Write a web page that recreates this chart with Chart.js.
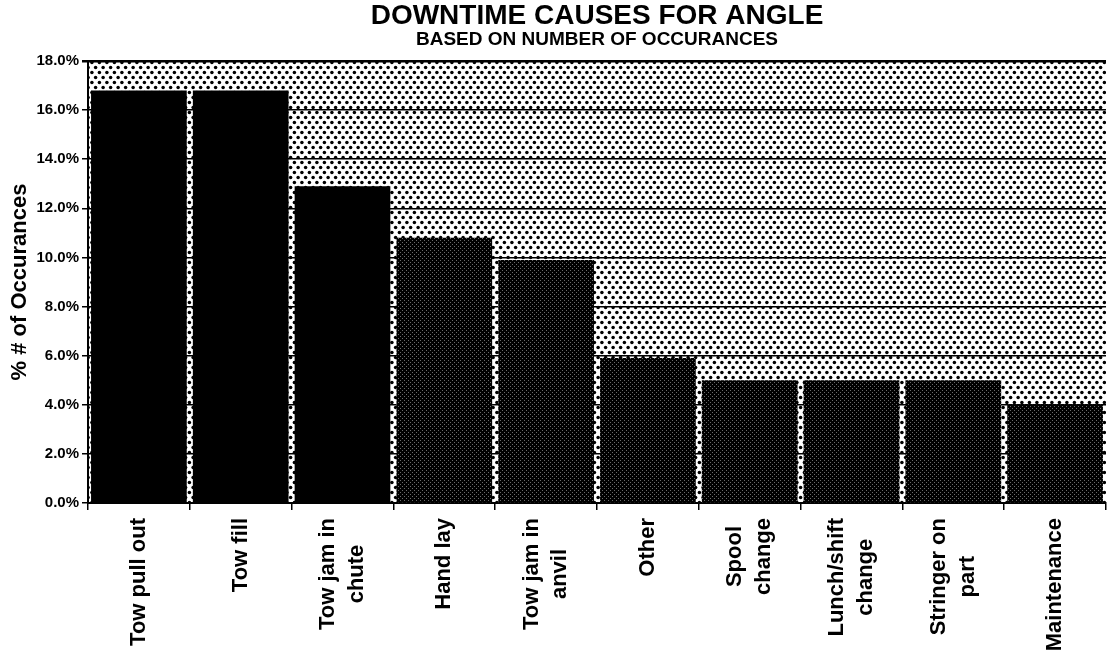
<!DOCTYPE html>
<html>
<head>
<meta charset="utf-8">
<title>Downtime Causes for Angle</title>
<script src="https://cdn.jsdelivr.net/npm/chart.js@4.4.0/dist/chart.umd.min.js"></script>
<style>
  html, body { margin: 0; padding: 0; background: #fff; }
  #wrap { width: 1109px; height: 663px; }
</style>
</head>
<body>
<div id="wrap"><canvas id="chart" width="1109" height="663"></canvas></div>
<script>
// Downtime causes, share of all recorded occurrences (%)
const categories = [
  ["Tow pull out"],
  ["Tow fill"],
  ["Tow jam in", "chute"],
  ["Hand lay"],
  ["Tow jam in", "anvil"],
  ["Other"],
  ["Spool", "change"],
  ["Lunch/shift", "change"],
  ["Stringer on", "part"],
  ["Maintenance"]
];
const occurrencePct = [16.8, 16.8, 12.9, 10.8, 9.9, 5.9, 5.0, 5.0, 5.0, 4.0];
const yTickValues = [0, 2, 4, 6, 8, 10, 12, 14, 16, 18];
const yTickLabels = ["0.0%", "2.0%", "4.0%", "6.0%", "8.0%", "10.0%", "12.0%", "14.0%", "16.0%", "18.0%"];

const FONT = '"Liberation Sans", Arial, Helvetica, sans-serif';

// Halftone dot screen used behind the bars
function dotPattern(ctx) {
  const c = document.createElement('canvas');
  c.width = 15; c.height = 10;
  const g = c.getContext('2d');
  g.fillStyle = '#fff';
  g.fillRect(0, 0, 15, 10);
  g.fillStyle = '#000';
  [[1.9, 2.5], [9.4, 2.5], [5.6, 7.5], [13.1, 7.5]].forEach(([x, y]) => {
    g.beginPath();
    g.arc(x, y, 1.75, 0, Math.PI * 2);
    g.fill();
  });
  return ctx.createPattern(c, 'repeat');
}

// Dark screened fill for the lighter bars
function darkScreen(ctx) {
  const c = document.createElement('canvas');
  c.width = 4; c.height = 4;
  const g = c.getContext('2d');
  g.fillStyle = '#000';
  g.fillRect(0, 0, 4, 4);
  g.fillStyle = '#6a6a6a';
  g.fillRect(0, 0, 1, 1);
  g.fillRect(2, 2, 1, 1);
  return ctx.createPattern(c, 'repeat');
}

const canvas = document.getElementById('chart');
const ctx2d = canvas.getContext('2d');
const plotFill = dotPattern(ctx2d);
const screenFill = darkScreen(ctx2d);
const barFills = occurrencePct.map((v, i) => (i < 3 ? '#000' : screenFill));

const plotBackground = {
  id: 'plotBackground',
  beforeDraw(chart) {
    const { ctx, chartArea: a } = chart;
    ctx.save();
    ctx.fillStyle = plotFill;
    ctx.fillRect(a.left, a.top, a.right - a.left, a.bottom - a.top);
    ctx.restore();
  }
};

// Center the lines of each rotated category label on one another and on the tick
const centeredCategoryLines = {
  id: 'centeredCategoryLines',
  beforeDraw(chart) {
    const scale = chart.scales.x;
    const items = scale.getLabelItems(chart.chartArea);
    const ctx = chart.ctx;
    items.forEach(item => {
      if (item._centered) return;
      const lines = Array.isArray(item.label) ? item.label : [item.label];
      ctx.save();
      ctx.font = item.font.string;
      const w = Math.max(...lines.map(l => ctx.measureText(l).width));
      ctx.restore();
      item.options.textAlign = 'center';
      item.options.translation = [item.options.translation[0], item.options.translation[1] + w / 2];
      item.textOffset -= (lines.length - 1) * item.font.lineHeight / 2;
      item._centered = true;
    });
  }
};

new Chart(canvas, {
  type: 'bar',
  data: {
    labels: categories,
    datasets: [{
      data: occurrencePct,
      backgroundColor: barFills,
      borderWidth: 0,
      barPercentage: 0.94,
      categoryPercentage: 1.0
    }]
  },
  options: {
    responsive: false,
    animation: false,
    events: [],
    devicePixelRatio: 1,
    layout: { padding: { top: 2, right: 3, left: 0, bottom: 0 } },
    plugins: {
      legend: { display: false },
      tooltip: { enabled: false },
      title: {
        display: true,
        text: 'DOWNTIME CAUSES FOR ANGLE',
        fullSize: false,
        color: '#000',
        font: { family: FONT, size: 28, weight: 'bold', lineHeight: 1.0 },
        padding: { top: 0, bottom: 0 }
      },
      subtitle: {
        display: true,
        text: 'BASED ON NUMBER OF OCCURANCES',
        fullSize: false,
        color: '#000',
        font: { family: FONT, size: 19, weight: 'bold', lineHeight: 1.0 },
        padding: { top: 0, bottom: 12 }
      }
    },
    scales: {
      x: {
        offset: true,
        afterFit(scale) {
          scale.height = 160;
          scale.paddingLeft = 0;
          scale.paddingRight = 0;
        },
        grid: {
          display: true,
          offset: true,
          drawOnChartArea: false,
          drawTicks: true,
          tickLength: 7,
          color: '#000',
          lineWidth: 1.5
        },
        border: { display: true, color: '#000', width: 2 },
        ticks: {
          autoSkip: false,
          maxRotation: 90,
          minRotation: 90,
          padding: 8,
          color: '#000',
          font: { family: FONT, size: 22, weight: 'bold', lineHeight: 1.3 }
        }
      },
      y: {
        min: 0,
        max: 18,
        afterFit(scale) {
          scale.width = 88;
          scale.paddingTop = 0;
          scale.paddingBottom = 0;
        },
        afterBuildTicks(scale) {
          scale.ticks = yTickValues.map(v => ({ value: v }));
        },
        grid: {
          display: true,
          drawOnChartArea: true,
          drawTicks: true,
          tickLength: 6,
          color: '#000',
          lineWidth: c => (c.tick && c.tick.value === 18 ? 2.5 : 1.5)
        },
        border: { display: true, color: '#000', width: 2 },
        ticks: {
          padding: 3,
          color: '#000',
          font: { family: FONT, size: 15, weight: 'bold' },
          callback: (v) => yTickLabels[yTickValues.indexOf(v)]
        },
        title: {
          display: true,
          text: '% # of Occurances',
          color: '#000',
          font: { family: FONT, size: 22, weight: 'bold', lineHeight: 1.2 },
          padding: { top: 7, bottom: 0 }
        }
      }
    }
  },
  plugins: [plotBackground, centeredCategoryLines]
});
</script>
</body>
</html>
